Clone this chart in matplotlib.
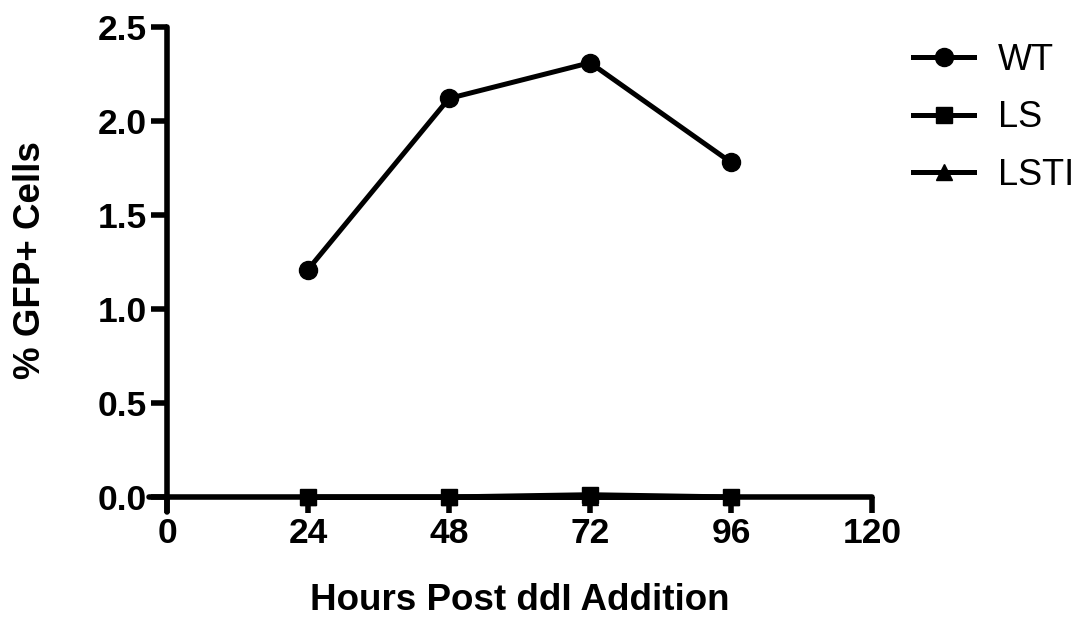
import matplotlib
matplotlib.use("Agg")
import matplotlib.pyplot as plt

hours = [24, 48, 72, 96]
wt = [1.21, 2.12, 2.31, 1.78]
ls = [0.0, 0.0, 0.012, 0.0]
lsti = [0.0, 0.0, 0.0, 0.0]
x_ticks = [0, 24, 48, 72, 96, 120]
y_ticks = [0.0, 0.5, 1.0, 1.5, 2.0, 2.5]

plt.rcParams["font.family"] = ["Liberation Sans", "DejaVu Sans"]

W, H = 1084, 618
fig = plt.figure(figsize=(W / 100, H / 100), dpi=100)
# x: -3 .. 120 -> px 149.4 .. 872 ; y: -0.08 .. 2.5 -> px 512 .. 27
ax_w, ax_h = 872 - 149.4, 512 - 27
ax = fig.add_axes([149.4 / W, (H - 512) / H, ax_w / W, ax_h / H])

lw = 3.6
ax.plot(hours, lsti, color="black", lw=lw, marker="^", ms=12, label="LSTI", zorder=3)
ax.plot(hours, ls, color="black", lw=lw, marker="s", ms=12, label="LS", zorder=4)
ax.plot(hours, wt, color="black", lw=lw, marker="o", ms=13, label="WT", zorder=5)

ax.set_xlim(-3, 120)
ax.set_ylim(-0.08, 2.5)
ax.spines["left"].set_position(("data", 0))
ax.spines["bottom"].set_position(("data", 0))
for s in ["top", "right"]:
    ax.spines[s].set_visible(False)
for s in ["left", "bottom"]:
    ax.spines[s].set_linewidth(4)
    ax.spines[s].set_capstyle("round")

ax.set_xticks(x_ticks)
ax.set_yticks(y_ticks)
ax.set_yticklabels([f"{v:.1f}" for v in y_ticks])
ax.tick_params(axis="both", direction="out", length=11.5, width=4, labelsize=25.5, pad=3)
for lab in ax.get_xticklabels() + ax.get_yticklabels():
    lab.set_fontweight("bold")

ax.set_xlabel("Hours Post ddI Addition", fontsize=26.5, fontweight="bold")
ax.set_ylabel("% GFP+ Cells", fontsize=26.5, fontweight="bold")
# centre the titles on the 0..120 and 0..2.5 ranges
ax.xaxis.set_label_coords((519.5 - 149.4) / ax_w, (512 - 583) / ax_h)
ax.yaxis.set_label_coords((48 - 149.4) / ax_w, (512 - 260) / ax_h)

h, l = ax.get_legend_handles_labels()
order = [2, 1, 0]
fig.legend([h[i] for i in order], [l[i] for i in order], loc="upper left",
           bbox_to_anchor=(913 / W, (H - 43) / H), frameon=False, fontsize=26,
           handlelength=1.7, labelspacing=0.62, handletextpad=0.65,
           borderpad=0, borderaxespad=0)

fig.savefig("out.png", dpi=100)
